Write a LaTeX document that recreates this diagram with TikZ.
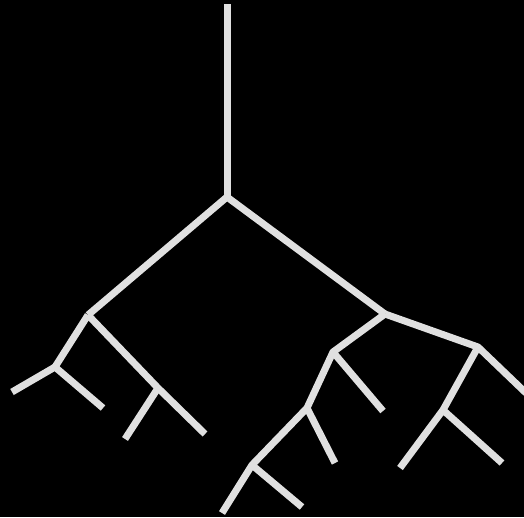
\documentclass[tikz,border=0pt]{standalone}
\usepackage{tikz}
\usetikzlibrary{calc}
\definecolor{twig}{HTML}{E0E0E0}

\begin{document}
\begin{tikzpicture}[x=1pt, y=-1pt, line join=round,
    branch/.style={line width=7pt, twig, line cap=butt}]

    % Black canvas (fixes the margins)
    \fill[black] (0,0) rectangle (524,517);
    \useasboundingbox (0,0) rectangle (524,517);

    % Tree points (pixel positions, y downwards)
    \coordinate (top)  at (227, 4);
    \coordinate (root) at (227, 197);
    % left subtree
    \coordinate (L)    at (88, 315);
    \coordinate (LA)   at (55, 367);
    \coordinate (LA1)  at (12, 392);
    \coordinate (LA2)  at (103, 408);
    \coordinate (LB)   at (158, 388);
    \coordinate (LB1)  at (125, 439);
    \coordinate (LB2)  at (205, 434);
    % right subtree
    \coordinate (R)    at (385, 314);
    \coordinate (RA)   at (333, 352);
    \coordinate (RA1)  at (383, 411);
    \coordinate (RB)   at (307, 408);
    \coordinate (RB1)  at (335, 463);
    \coordinate (RC)   at (252, 465);
    \coordinate (RC1)  at (222, 513);
    \coordinate (RC2)  at (302, 507);
    \coordinate (RR)   at (478, 347);
    \coordinate (RR1)  at (526, 393);
    \coordinate (RD)   at (443, 410);
    \coordinate (RD1)  at (400, 468);
    \coordinate (RD2)  at (502, 463);

    % Trunk
    \draw[branch] (top) -- (root);
    \draw[branch] (L) -- (root) -- (R);

    % Left subtree
    \draw[branch] (L) -- (LA);
    \draw[branch] (LA1) -- (LA) -- (LA2);
    \draw[branch] (L) -- (LB) -- (LB2);
    \draw[branch] (LB) -- (LB1);

    % Right subtree
    \draw[branch] (R) -- (RA) -- (RB) -- (RC);
    \draw[branch] (RA) -- (RA1);
    \draw[branch] (RB) -- (RB1);
    \draw[branch] (RC1) -- (RC) -- (RC2);
    \draw[branch] (R) -- (RR) -- (RR1);
    \draw[branch] (RR) -- (RD);
    \draw[branch] (RD1) -- (RD) -- (RD2);

\end{tikzpicture}
\end{document}
